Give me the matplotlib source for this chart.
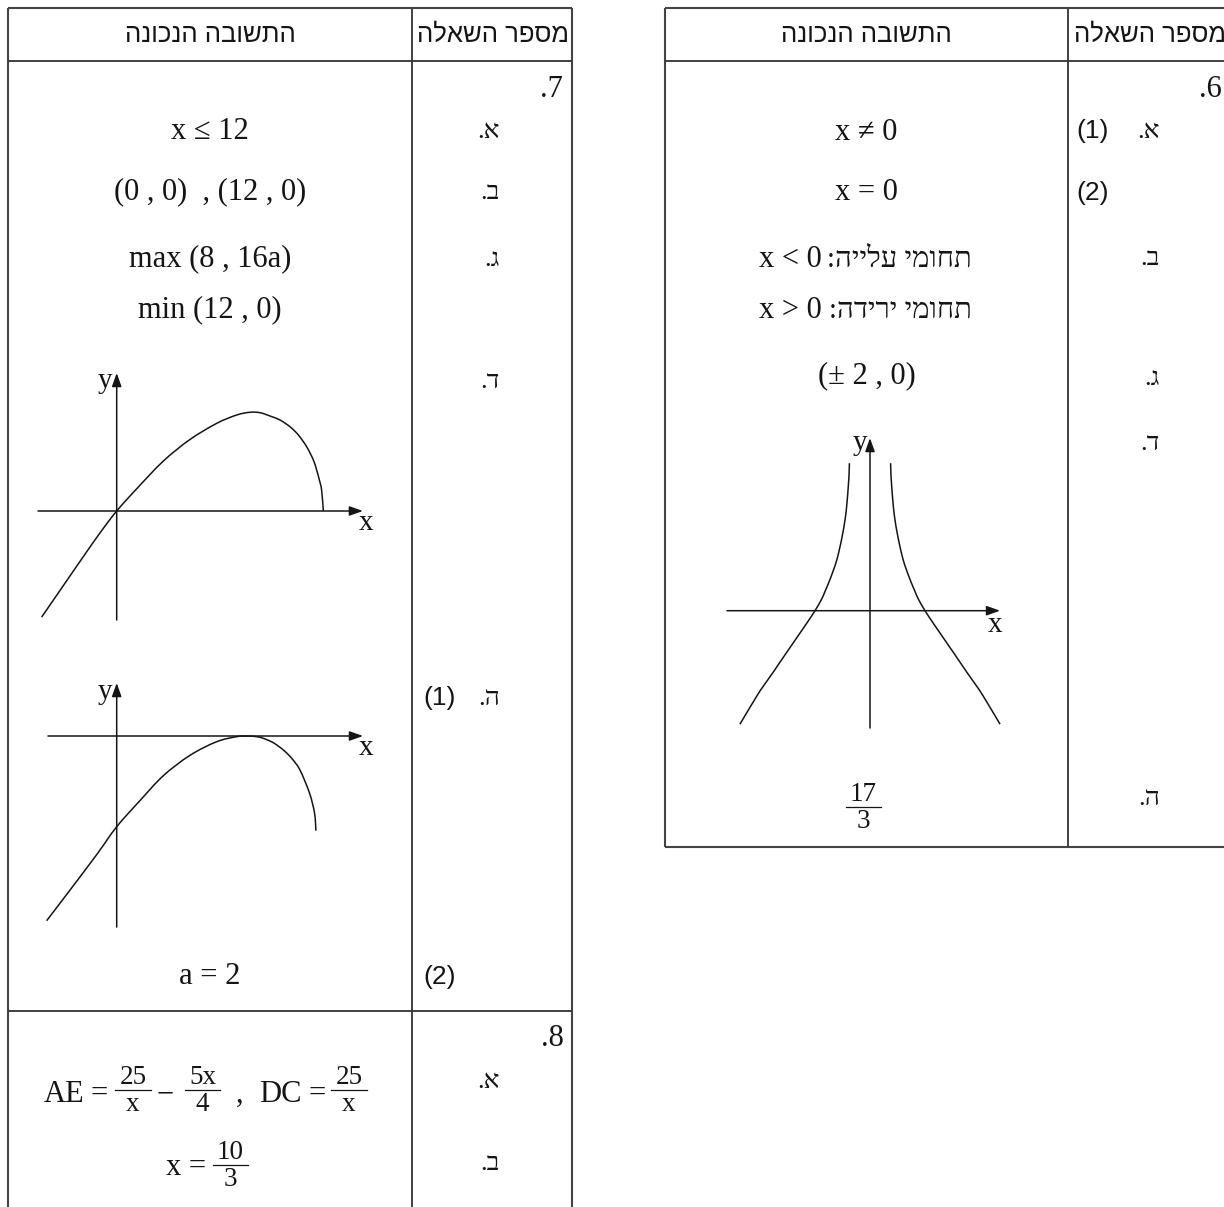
import numpy as np
import matplotlib
matplotlib.use("Agg")
import matplotlib.pyplot as plt
from matplotlib.transforms import Affine2D
from matplotlib.path import Path
from matplotlib.patches import PathPatch

W, H = 1224, 1207
SERIF = ["Liberation Serif", "DejaVu Serif", "DejaVu Sans"]
SANS = ["Liberation Sans", "DejaVu Sans"]
INK = "#151515"
LINE = "#333333"


def rtl(s):
    """Hebrew text in visual (left-to-right drawing) order."""
    return s[::-1]


# ------------------------------------------------------------------ data
headers = ["התשובה הנכונה", "מספר השאלה"]

q7_number = ".7"
q7_answers = ["x ≤ 12", "(0 , 0)  , (12 , 0)", "max (8 , 16a)", "min (12 , 0)"]
q7_letters = ["א.", "ב.", "ג.", "ד.", "ה."]
q7_sub = ["(1)", "(2)"]
q7_e2 = "a = 2"

q6_number = ".6"
q6_answers = ["x ≠ 0", "x = 0"]
q6_ranges = [("תחומי עלייה:", "x < 0"), ("תחומי ירידה:", "x > 0")]
q6_points = "(± 2 , 0)"
q6_letters = ["א.", "ב.", "ג.", "ד.", "ה."]
q6_sub = ["(1)", "(2)"]
q6_e = ("17", "3")

q8_number = ".8"
q8_letters = ["א.", "ב."]
q8a_parts = ["AE", "=", ("25", "x"), "−", ("5x", "4"), ",", "DC", "=", ("25", "x")]
q8b_parts = ["x =", ("10", "3")]

# sketch 7d : y = f(x)
g7d_x = [-4.36, -3.10, -1.94, -0.97, 0.0, 1.16, 2.71, 4.26, 5.81, 6.97, 7.74,
         8.32, 8.90, 9.48, 10.06, 10.55, 11.03, 11.42, 11.61, 11.77, 11.90, 12.0]
g7d_y = [-17.2, -12.1, -7.4, -3.55, 0.0, 3.6, 8.1, 11.6, 14.21, 15.56, 16.0,
         15.93, 15.40, 14.75, 13.66, 12.32, 10.42, 8.27, 6.65, 5.02, 3.40, 0.0]

# sketch 7e(1)
g7e_x = [-4.22, -2.81, -1.20, 0.0, 1.40, 2.81, 4.42, 6.02, 7.23, 7.83, 8.43,
         8.83, 9.43, 10.04, 10.54, 11.04, 11.62, 11.92, 12.0]
g7e_y = [-32.58, -27.16, -20.9, -16.0, -11.4, -7.0, -3.4, -1.01, -0.12, 0.0, -0.12,
         -0.41, -1.18, -2.47, -3.93, -6.0, -10.11, -13.64, -16.7]

# sketch 6d (two branches)
g6_right_x = [0.75, 0.76, 0.79, 0.85, 0.91, 0.99, 1.09, 1.21, 1.33, 1.48, 1.64,
              1.76, 2.0, 2.30, 2.55, 2.85, 3.15, 3.52, 3.88, 4.12, 4.73]
g6_right_y = [29.5, 27.5, 24.8, 20.8, 18.1, 15.5, 12.8, 10.1, 8.1, 5.9, 3.8,
              2.3, 0.0, -2.5, -4.5, -6.9, -9.3, -12.3, -15.1, -17.1, -22.7]
g6_left_x = [-0.75, -0.76, -0.79, -0.85, -0.91, -0.99, -1.09, -1.21, -1.33, -1.48, -1.64,
             -1.76, -2.0, -2.30, -2.55, -2.85, -3.15, -3.52, -3.88, -4.12, -4.73]
g6_left_y = [29.5, 27.5, 24.8, 20.8, 18.1, 15.5, 12.8, 10.1, 8.1, 5.9, 3.8,
             2.3, 0.0, -2.5, -4.5, -6.9, -9.3, -12.3, -15.1, -17.1, -22.7]

# axis extents of the sketches (in sketch units)
g7d_axes = ((-4.57, 14.30), (-17.67, 22.37))
g7e_axes = ((-4.14, 14.84), (-33.7, 9.35))
g6_axes = ((-5.2, 4.73), (-23.46, 34.54))

# ------------------------------------------------------------------ figure
fig = plt.figure(figsize=(W / 100, H / 100), dpi=100)
ax = fig.add_axes([0, 0, 1, 1])
ax.set_xlim(0, W)
ax.set_ylim(H, 0)
ax.axis("off")
R = fig.canvas.get_renderer()

MAIN = 22
FRAC = 19.5
HEB = 18.5


def hline(y, x0, x1, lw=1.3, c=LINE):
    ax.plot([x0, x1], [y, y], color=c, lw=lw, solid_capstyle="butt")


def vline(x, y0, y1, lw=1.3, c=LINE):
    ax.plot([x, x], [y0, y1], color=c, lw=lw, solid_capstyle="butt")


def txt(x, y, s, size=MAIN, fam=SERIF, ha="center", va="baseline"):
    return ax.text(x, y, s, fontsize=size, family=fam, ha=ha, va=va, color=INK)


def frac(cx, bar_y, num, den, size=FRAC):
    t1 = txt(cx, bar_y - 6, num, size=size)
    t2 = txt(cx, bar_y + 21, den, size=size)
    w = max(t1.get_window_extent(R).width, t2.get_window_extent(R).width) + 8
    ax.plot([cx - w / 2, cx + w / 2], [bar_y, bar_y], color=INK, lw=0.9)


def smooth_curve(pts_px):
    """Smooth rendering (Bezier path) through the read points, in pixel space."""
    p = np.asarray(pts_px, float)
    ext = np.vstack([p[0], p, p[-1]])
    verts = [p[0]]
    codes = [Path.MOVETO]
    for i in range(len(p) - 1):
        p0, p1, p2, p3 = ext[i], ext[i + 1], ext[i + 2], ext[i + 3]
        c1 = p1 + (p2 - p0) / 6.0
        c2 = p2 - (p3 - p1) / 6.0
        verts += [c1, c2, p2]
        codes += [Path.CURVE4] * 3
    return Path(verts, codes)


def sketch(ox, oy, sx, sy, curves, axes_ext, ylab, xlab):
    aff = Affine2D().scale(sx, -sy).translate(ox, oy)
    tr = aff + ax.transData
    (x0, x1), (y0, y1) = axes_ext
    ap = dict(arrowstyle="-|>,head_length=0.45,head_width=0.16", mutation_scale=18,
              lw=1.1, color=INK, shrinkA=0, shrinkB=0)
    ax.annotate("", xy=(x1, 0), xytext=(x0, 0), xycoords=tr, textcoords=tr, arrowprops=ap)
    ax.annotate("", xy=(0, y1), xytext=(0, y0), xycoords=tr, textcoords=tr, arrowprops=ap)
    for xs, ys in curves:
        pts = aff.transform(np.column_stack([xs, ys]))
        ax.add_patch(PathPatch(smooth_curve(pts), fill=False, edgecolor=INK, lw=1.1,
                               transform=ax.transData, capstyle="butt"))
    txt(ylab[0], ylab[1], "y", size=21, ha="right")
    txt(xlab[0], xlab[1], "x", size=21)


# ------------------------------------------------------------------ left table (Q7, Q8)
LX0, LXD, LX1 = 8, 412, 572
for x in (LX0, LX1):
    vline(x, 8, H, lw=1.5, c="#444444")
vline(LXD, 8, H)
hline(8, LX0, LX1, lw=1.5, c="#444444")
hline(61, LX0, LX1)
hline(1011, LX0, LX1)

LC = (LX0 + LXD) / 2
txt(LC, 42, rtl(headers[0]), size=HEB, fam=SANS)
txt((LXD + LX1) / 2 + 1, 42, rtl(headers[1]), size=HEB, fam=SANS)

txt(563, 97, q7_number, ha="right")
for s, yb in zip(q7_answers, [139, 199, 266, 317]):
    txt(LC, yb, s)
for s, yb in zip(q7_letters, [138, 199, 266, 388, 705]):
    txt(500, yb, rtl(s), size=19, ha="right")
txt(423, 705, q7_sub[0], size=19, fam=SANS, ha="left")
txt(423, 984, q7_sub[1], size=19, fam=SANS, ha="left")
txt(LC, 984, q7_e2)

sketch(116.7, 511, 17.22, 6.17, [(g7d_x, g7d_y)], g7d_axes, (112, 388), (366, 530))
sketch(116.7, 736, 16.6, 5.67, [(g7e_x, g7e_y)], g7e_axes, (112, 699), (366, 755))

# Q8
txt(564, 1046, q8_number, ha="right")
txt(500, 1088, rtl(q8_letters[0]), size=19, ha="right")
txt(500, 1170, rtl(q8_letters[1]), size=19, ha="right")

a_centers = [64, 99, 133, 165, 202.5, 239.5, 280.5, 317.5, 349]
for part, cx in zip(q8a_parts, a_centers):
    if isinstance(part, tuple):
        frac(cx, 1090, part[0], part[1])
    else:
        txt(cx, 1102, part)
txt(206, 1175, q8b_parts[0], ha="right")
frac(230, 1165, q8b_parts[1][0], q8b_parts[1][1])

# ------------------------------------------------------------------ right table (Q6)
RX0, RXD = 665, 1068
vline(RX0, 8, 847, lw=1.5, c="#444444")
vline(RXD, 8, 847)
hline(8, RX0, W, lw=1.5, c="#444444")
hline(61, RX0, W)
hline(847, RX0, W, lw=1.5, c="#444444")

RC = (RX0 + RXD) / 2
txt(RC, 42, rtl(headers[0]), size=HEB, fam=SANS)
txt(RXD + 6, 42, rtl(headers[1]), size=HEB, fam=SANS, ha="left")

txt(1222, 97, q6_number, ha="right")
txt(RC, 140, q6_answers[0])
txt(RC, 200, q6_answers[1])
for (heb, cond), yb in zip(q6_ranges, [267, 318]):
    txt(822, yb, cond, ha="right")
    txt(972, yb, rtl(heb), size=21, ha="right")
txt(RC, 383, q6_points)
for s, yb in zip(q6_letters, [138, 265, 385, 450, 805]):
    txt(1160, yb, rtl(s), size=19, ha="right")
txt(1076, 138, q6_sub[0], size=19, fam=SANS, ha="left")
txt(1076, 200, q6_sub[1], size=19, fam=SANS, ha="left")
frac(863, 807, q6_e[0], q6_e[1])

sketch(870, 610.7, 27.5, 5.0, [(g6_left_x, g6_left_y), (g6_right_x, g6_right_y)],
       g6_axes, (867, 450), (995, 632))

fig.savefig("out.png", dpi=100, facecolor="white")
